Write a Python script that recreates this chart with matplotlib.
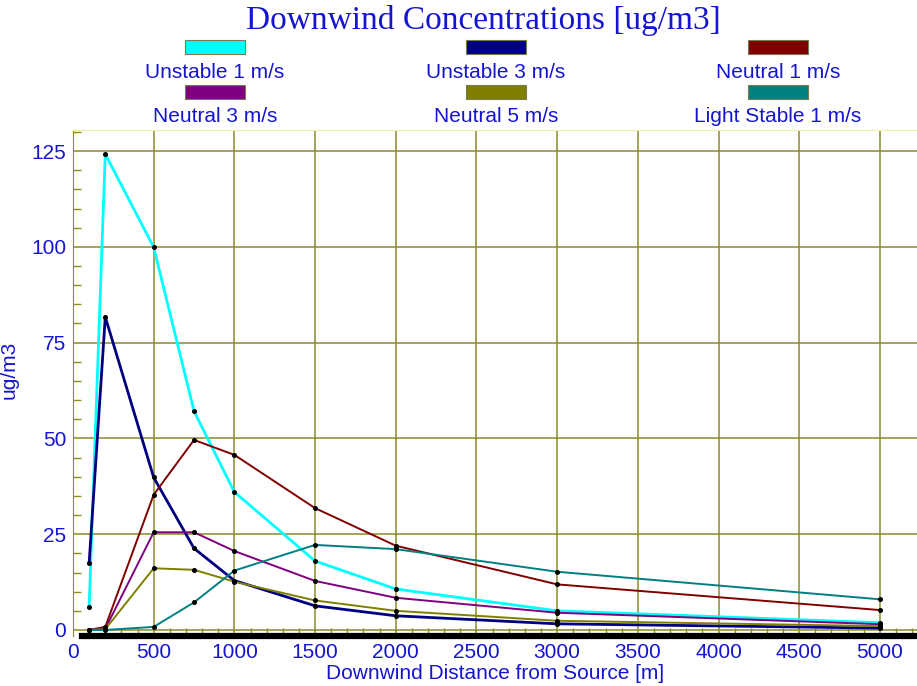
import matplotlib
matplotlib.use('Agg')
import matplotlib.pyplot as plt
from matplotlib.patches import Rectangle
from matplotlib.ticker import MultipleLocator

# distances downwind [m]
distance = [100, 200, 500, 750, 1000, 1500, 2000, 3000, 5000]

# concentrations [ug/m3] per stability class / wind speed
unstable_1 = [6.1, 124.2, 99.9, 57.1, 36.0, 18.0, 10.7, 5.0, 1.9]
unstable_3 = [17.4, 81.7, 39.8, 21.3, 12.9, 6.3, 3.7, 1.6, 0.5]
neutral_1 = [0.0, 0.8, 35.3, 49.6, 45.7, 31.8, 22.0, 11.9, 5.2]
neutral_3 = [0.0, 0.3, 25.5, 25.5, 20.6, 12.8, 8.4, 4.5, 1.5]
neutral_5 = [0.0, 0.2, 16.1, 15.7, 12.6, 7.7, 5.0, 2.4, 1.0]
light_stable_1 = [0.0, 0.0, 0.8, 7.2, 15.5, 22.2, 21.1, 15.2, 8.0]

labels = ['Unstable 1 m/s', 'Unstable 3 m/s', 'Neutral 1 m/s',
          'Neutral 3 m/s', 'Neutral 5 m/s', 'Light Stable 1 m/s']
colors = ['#00ffff', '#000080', '#800000', '#800080', '#808000', '#008080']
series = [unstable_1, unstable_3, neutral_1, neutral_3, neutral_5, light_stable_1]

blue = '#1515d0'
grid_col = '#8c8c28'

fig = plt.figure(figsize=(9.17, 6.86), dpi=100)
ax = fig.add_axes([0.0796, 0.0733, 0.9204, 0.7372])

for vals, c in zip(series, colors):
    lw = 2.0 if c in ('#00ffff', '#000080') else 1.4
    ax.plot(distance, vals, color=c, lw=lw, zorder=3)
    ax.plot(distance, vals, 'o', color='black', ms=2.6, zorder=4)

ax.set_xlim(0, 5230)
ax.set_ylim(-1.5, 130.5)
ax.xaxis.set_major_locator(MultipleLocator(500))
ax.xaxis.set_minor_locator(MultipleLocator(100))
ax.yaxis.set_major_locator(MultipleLocator(25))
ax.yaxis.set_minor_locator(MultipleLocator(5))
ax.grid(True, which='major', color=grid_col, lw=1.1, zorder=1)

ax.tick_params(which='major', length=0, labelsize=15, labelcolor=blue, pad=5)
ax.tick_params(which='minor', direction='in', length=6, color=grid_col, width=1)

for lab in ax.get_xticklabels() + ax.get_yticklabels():
    lab.set_family('Liberation Sans')

ax.spines['right'].set_visible(False)
ax.spines['top'].set_color('#f0f0a0')
ax.spines['left'].set_color(grid_col)
ax.spines['bottom'].set_color('black')
ax.spines['bottom'].set_linewidth(4.5)
ax.spines['bottom'].set_bounds(55, 5230)

ax.set_xlabel('Downwind Distance from Source [m]', fontsize=15, color=blue,
              family='Liberation Sans', va='center')
ax.xaxis.set_label_coords(0.5, -0.074)
ax.set_ylabel('ug/m3', fontsize=15, color=blue, family='Liberation Sans')
ax.yaxis.set_label_coords(-0.065, 0.525)

fig.text(483 / 917, 1 - 20 / 686, 'Downwind Concentrations [ug/m3]', ha='center', va='center',
         fontsize=24, color=blue, family='Liberation Serif')

# legend: swatch above label, 3 columns x 2 rows
col_x = [215, 496, 778]
row_y = [47, 92]
for i, (lab, c) in enumerate(zip(labels, colors)):
    cx = col_x[i % 3]
    ry = row_y[i // 3]
    fig.patches.append(Rectangle(((cx - 30) / 917, 1 - (ry + 7) / 686), 60 / 917, 14 / 686,
                                 transform=fig.transFigure, facecolor=c,
                                 edgecolor='#7a7a50', lw=0.8))
    fig.text(cx / 917, 1 - (ry + 25) / 686, lab, ha='center', va='center',
             fontsize=15, color=blue, family='Liberation Sans')

fig.savefig('out.png', dpi=100)
